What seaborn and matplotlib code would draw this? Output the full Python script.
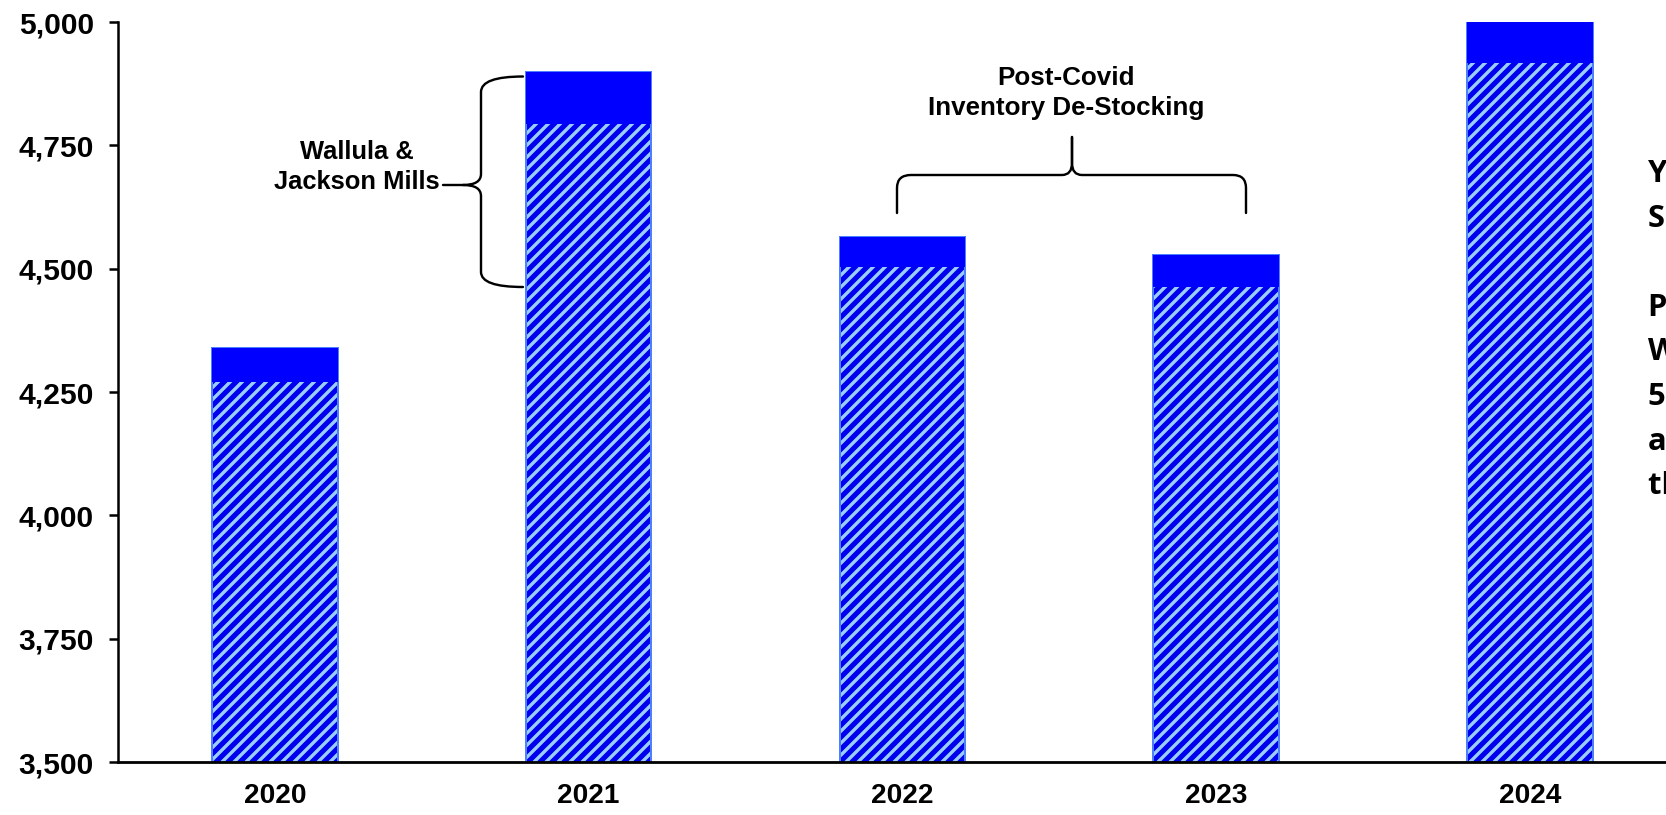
import matplotlib
matplotlib.use("Agg")
import matplotlib.pyplot as plt
import seaborn as sns
import pandas as pd
from matplotlib.path import Path
from matplotlib.patches import PathPatch
from matplotlib.ticker import FuncFormatter

# ---------------- data ----------------
years = ["2020", "2021", "2022", "2023", "2024"]
base_values = [4271, 4793, 4504, 4463, 4916]
total_values = [4340, 4898, 4564, 4527, 5000]
y_ticks = [3500, 3750, 4000, 4250, 4500, 4750, 5000]
brace1_label = "Wallula &\nJackson Mills"
brace2_label = "Post-Covid\nInventory De-Stocking"
side_lines = ["Year-over-Year", "Segment Growth", "", "Pro forma for",
              "Wallula and", "5 Jackson mills", "and", "the period"]

cap_values = [t - b for t, b in zip(total_values, base_values)]
df = pd.DataFrame({"year": years, "base": base_values,
                   "total": total_values, "cap": cap_values})

# ---------------- style ----------------
sns.set_style("ticks")
plt.rcParams["font.family"] = ["Liberation Sans", "DejaVu Sans"]
plt.rcParams["font.weight"] = "bold"
plt.rcParams["hatch.linewidth"] = 3.4

DPI = 72
W, H = 1666, 815
fig = plt.figure(figsize=(W / DPI, H / DPI), dpi=DPI)
left_px, bottom_px, top_px = 118, 762, 22
cat_w = 313.75
ax = fig.add_axes([left_px / W, (H - bottom_px) / H, 6 * cat_w / W,
                   (bottom_px - top_px) / H])

# hatched full bars
sns.barplot(data=df, x="year", y="total", order=years, color="#0000EE",
            saturation=1, width=0.4, errorbar=None, hatch="//",
            edgecolor="#99CCFF", linewidth=0, ax=ax)
# light blue outline
sns.barplot(data=df, x="year", y="total", order=years, color="#0000EE",
            saturation=1, width=0.4, errorbar=None, facecolor="none",
            edgecolor="#4D7FFF", linewidth=2, ax=ax)
# solid caps
sns.barplot(data=df, x="year", y="cap", order=years, color="#0000FF",
            saturation=1, width=0.4, errorbar=None,
            bottom=df["base"].values, linewidth=0, ax=ax)

ax.set_xlim(-0.5, 5.5)
ax.set_ylim(3500, 5000)
ax.set_yticks(y_ticks)
ax.yaxis.set_major_formatter(FuncFormatter(lambda v, p: f"{int(v):,}"))
ax.set_xlabel("")
ax.set_ylabel("")
ax.tick_params(axis="y", length=9, width=2.5, pad=15, labelsize=30,
               color="black", labelcolor="black")
ax.tick_params(axis="x", length=0, pad=21, labelsize=28, labelcolor="black")
for lab in ax.get_xticklabels() + ax.get_yticklabels():
    lab.set_fontweight("bold")
sns.despine(ax=ax, top=True, right=True)
ax.spines["left"].set_linewidth(2.5)
ax.spines["bottom"].set_linewidth(2.8)
ax.spines["left"].set_color("black")
ax.spines["bottom"].set_color("black")


def px(xp, yp):
    return tuple(ax.transData.inverted().transform((xp, H - yp)))


def draw_path(pts, codes):
    verts = [px(*p) for p in pts]
    ax.add_patch(PathPatch(Path(verts, codes), facecolor="none",
                           edgecolor="black", linewidth=2.4, clip_on=False,
                           capstyle="round", joinstyle="round"))


M, L, C = Path.MOVETO, Path.LINETO, Path.CURVE3

# brace for Wallula & Jackson Mills (vertical, pointing left)
draw_path([(523, 76.5), (481, 76.5), (481, 92), (481, 174), (481, 185),
           (463, 185), (443, 185)],
          [M, C, C, L, C, C, L])
draw_path([(463, 185), (481, 185), (481, 196), (481, 272), (481, 287),
           (523, 287)],
          [M, C, C, L, C, C])

# brace for Post-Covid (horizontal, pointing up)
draw_path([(897, 213), (897, 188), (897, 175), (911, 175), (1062, 175),
           (1072, 175), (1072, 163), (1072, 137)],
          [M, L, C, C, L, C, C, L])
draw_path([(1072, 137), (1072, 163), (1072, 175), (1082, 175), (1233, 175),
           (1246, 175), (1246, 188), (1246, 213)],
          [M, L, C, C, L, C, C, L])

tx, ty = px(357, 167)
ax.text(tx, ty, brace1_label, ha="center", va="center", fontsize=25.5,
        fontweight="bold", linespacing=1.35, color="black")
tx, ty = px(1066, 93)
ax.text(tx, ty, brace2_label, ha="center", va="center", fontsize=26,
        fontweight="bold", linespacing=1.35, color="black")

# side commentary (runs off the right edge of the slide)
for i, line in enumerate(side_lines):
    if not line:
        continue
    yc = 174 + i * 44.6
    fig.text(1648 / W, (H - yc) / H, line, ha="left", va="center",
             fontsize=31, fontweight="bold",
             family=["Open Sans", "DejaVu Sans"], color="black")

fig.savefig("out.png", dpi=DPI)
